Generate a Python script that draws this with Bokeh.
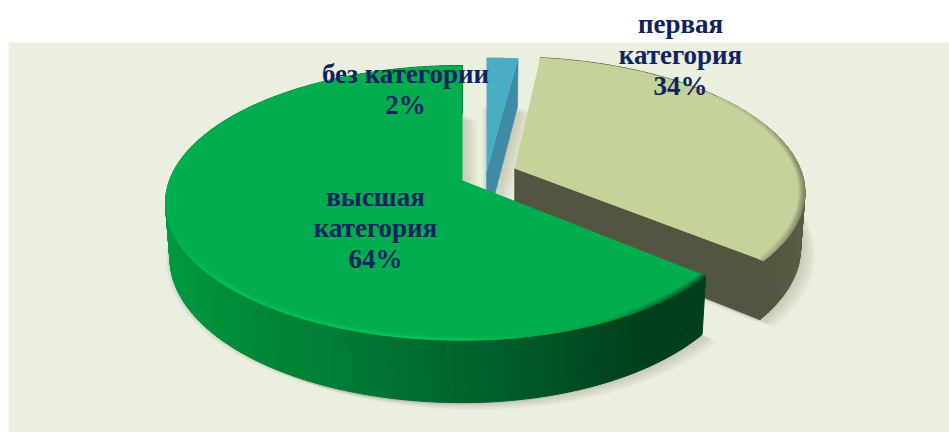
import math
from bokeh.plotting import figure
from bokeh.models import Range1d
from bokeh.core.properties import value
from bokeh.embed import file_html
from bokeh.resources import INLINE

# ---- data ----
categories = ["без категории", "первая категория", "высшая категория"]
shares = [2, 34, 64]
label_lines = [["без категории", "2%"], ["первая", "категория", "34%"], ["высшая", "категория", "64%"]]

# ---- layout / projection (page pixels) ----
W, H = 949, 432
BG_LEFT, BG_TOP = 8, 42
CX, CY = 462, 180
A, B, K = 293.0, 133.8, 0.1636
DEPTH, BOTTOM_SCALE = 54.0, 0.985
NAVY = "#0F2360"
BG = "#EAEFDF"

p = figure(width=W, height=H, output_backend="svg", toolbar_location=None,
           x_range=Range1d(0, W), y_range=Range1d(H, 0),
           min_border=0, outline_line_color=None, background_fill_color="white",
           border_fill_color="white")
p.axis.visible = False
p.grid.visible = False


def hex2rgb(c):
    return tuple(int(c[i:i + 2], 16) for i in (1, 3, 5))


def mix(c1, c2, t):
    a, b = hex2rgb(c1), hex2rgb(c2)
    return "#%02x%02x%02x" % tuple(round(a[i] + (b[i] - a[i]) * t) for i in range(3))


def ramp(stops, t):
    if t <= stops[0][0]:
        return stops[0][1]
    for (t0, c0), (t1, c1) in zip(stops, stops[1:]):
        if t <= t1:
            return mix(c0, c1, (t - t0) / (t1 - t0))
    return stops[-1][1]


def P(sl, theta, r=1.0, base=False):
    """theta is degrees clockwise from 12 o'clock."""
    u = math.sin(math.radians(theta)) * r
    v = math.cos(math.radians(theta)) * r
    w = 1 + K * v
    s = BOTTOM_SCALE if base else 1.0
    rs = sl["rs_right"] if u > 0 else sl["rs"]
    x = CX + sl["off"][0] + A * rs * u / w * s + sl["lean"] * v
    y = CY + sl["off"][1] - B * sl["bs"] * v / w * s + (DEPTH / w if base else 0)
    return x, y


def arc_pts(sl, t0, t1, r=1.0, base=False, step=1.5):
    n = max(2, int(abs(t1 - t0) / step) + 1)
    return [P(sl, t0 + (t1 - t0) * i / (n - 1), r, base) for i in range(n)]


# slice angles derived from the shares
total = sum(shares)
bounds, acc = [], 0.0
for s in shares:
    bounds.append((acc * 360 / total, (acc + s) * 360 / total))
    acc += s

blue_rng, olive_rng, green_rng = bounds
blue = dict(rng=blue_rng, off=(24, -8), rs=1.0, rs_right=1.0, bs=1.0, lean=0, top="#4BACC6", face="#3F8BA6")
olive = dict(rng=olive_rng, off=(52, -12), rs=0.975, rs_right=0.975, bs=0.97, lean=-5, top="#C3D39A", face="#525640")
green = dict(rng=green_rng, off=(0, 0), rs=1.0, rs_right=0.965, bs=1.0, lean=0, top="#00AE4F", face="#00401C")

p.quad(left=[BG_LEFT], right=[W], top=[BG_TOP], bottom=[H], fill_color=BG, line_color=None)


def outline(sl, base):
    t0, t1 = sl["rng"]
    return arc_pts(sl, t0, t1, 1.0, base) + [P(sl, 0, 0, base)]


# soft shadows, from the lower discs
for sl in (blue, olive, green):
    pts = outline(sl, True)
    for k in range(1, 7):
        xs = [x + k * 2.4 for x, y in pts]
        ys = [y + k * 1.2 for x, y in pts]
        p.patch(xs, ys, fill_color="#6E7258", fill_alpha=0.05, line_color=None)
        xs = [x - k * 0.7 for x, y in pts]
        ys = [y + k * 0.4 for x, y in pts]
        p.patch(xs, ys, fill_color="#6E7258", fill_alpha=0.03, line_color=None)


def wall(sl, stops, step=0.8):
    t0, t1 = sl["rng"]
    n = max(2, int((t1 - t0) / step))
    for i in range(n):
        a0 = t0 + (t1 - t0) * i / n
        a1 = t0 + (t1 - t0) * (i + 1) / n
        q0, q1 = P(sl, a0), P(sl, a1)
        q2, q3 = P(sl, a1, 1, True), P(sl, a0, 1, True)
        col = ramp(stops, (q0[0] + q1[0]) / 2)
        p.patch([q0[0], q1[0], q2[0], q3[0]], [q0[1], q1[1], q2[1], q3[1]],
                fill_color=col, line_color=col, line_width=1)


def cut_face(sl, theta):
    a, b, c, d = P(sl, theta, 0), P(sl, theta), P(sl, theta, 1, True), P(sl, theta, 0, True)
    p.patch([a[0], b[0], c[0], d[0]], [a[1], b[1], c[1], d[1]],
            fill_color=sl["face"], line_color=sl["face"], line_width=0.5)


def top_face(sl):
    pts = outline(sl, False)
    p.patch([q[0] for q in pts], [q[1] for q in pts], fill_color=sl["top"], line_color=None)


def rim(sl, stops, width=0.02, bands=4, step=2.0):
    t0, t1 = sl["rng"]
    n = max(2, int((t1 - t0) / step))
    for b in range(bands):
        r0 = 1 - width * (bands - b) / bands
        r1 = 1 - width * (bands - b - 1) / bands
        f = (b + 1) / bands
        for i in range(n):
            a0 = t0 + (t1 - t0) * i / n
            a1 = t0 + (t1 - t0) * (i + 1) / n
            target = ramp(stops, P(sl, (a0 + a1) / 2)[0])
            col = mix(sl["top"], target, f)
            Q = [P(sl, a0, r0), P(sl, a1, r0), P(sl, a1, r1), P(sl, a0, r1)]
            p.patch([q[0] for q in Q], [q[1] for q in Q], fill_color=col, line_color=col, line_width=0.3)


# blue wedge
cut_face(blue, blue_rng[1])
top_face(blue)

# olive wedge
wall(olive, [(600, "#525640"), (770, "#525640"), (805, "#5A5E46")])
cut_face(olive, olive_rng[1])
top_face(olive)
t0, t1 = olive_rng
olive_rim = dict(olive, rng=(t0 + 45, t1))
rim(olive_rim, [(690, "#C3D39A"), (750, "#B0BC8E"), (790, "#8E9276"), (810, "#777B60")], width=0.02)

# green wedge
wall(green, [(165, "#009A40"), (230, "#008C3A"), (320, "#007F36"), (420, "#006C30"),
             (520, "#005A28"), (600, "#004820"), (640, "#00401C"), (710, "#023F1C")])
top_face(green)
t0, t1 = green_rng
green_rim = dict(green, rng=(t0, t0 + 148))
rim(green_rim, [(165, "#00AE4F"), (200, "#02BC57"), (300, "#06C25C"), (450, "#08C660"), (540, "#00AE4F"),
                (610, "#00A049"), (660, "#006E32"), (710, "#01502A")], width=0.02)


# labels
def put(lines, cx, y0, dy=31.3):
    ys = [y0 + i * dy for i in range(len(lines))]
    p.text([cx] * len(lines), ys, text=lines, text_font=value("Liberation Serif"),
           text_font_style="bold", text_font_size="27px", text_color=NAVY,
           text_align="center", text_baseline="middle")


put(label_lines[0], 405, 73)
put(label_lines[1], 680, 23)
put(label_lines[2], 375, 196)

open("out.html", "w").write(file_html(p, INLINE))
